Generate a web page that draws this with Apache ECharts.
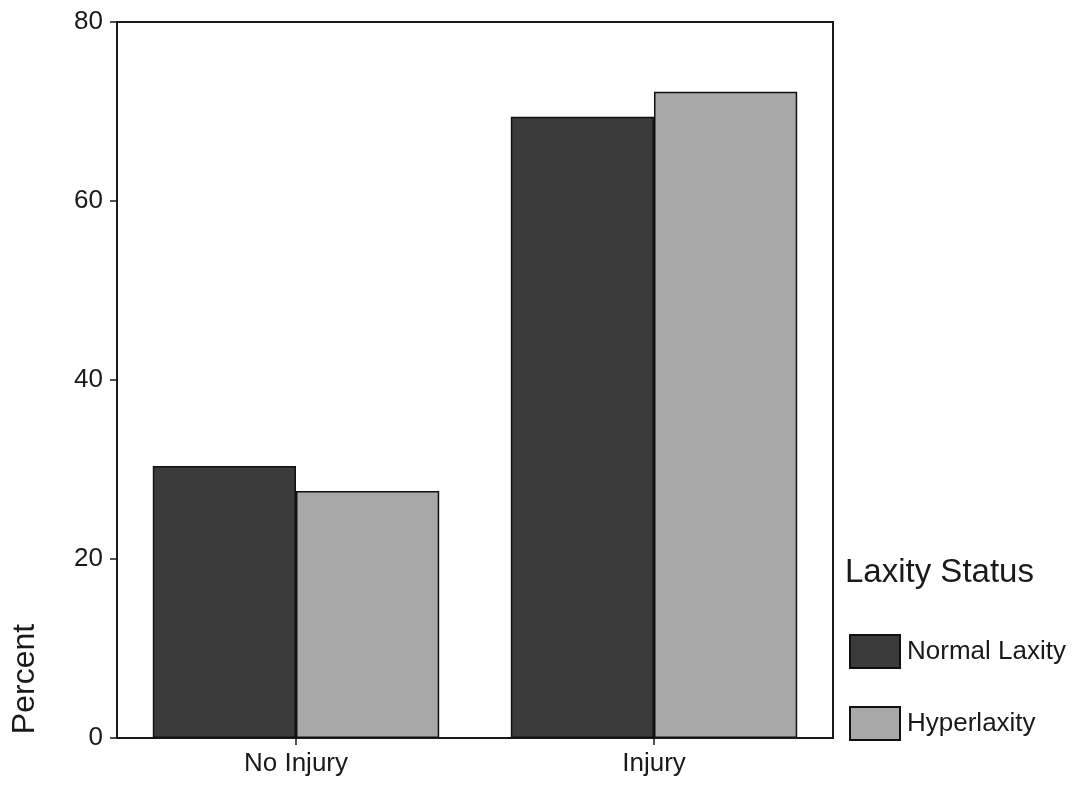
<!DOCTYPE html>
<html>
<head>
<meta charset="utf-8">
<script src="https://cdn.jsdelivr.net/npm/echarts@6/dist/echarts.min.js"></script>
<style>
  html, body { margin: 0; padding: 0; background: #fff; }
  #chart { width: 1077px; height: 786px; }
</style>
</head>
<body>
<div id="chart"></div>
<script>
const categories = ['No Injury', 'Injury'];
const normalLaxity = [30.4, 69.4];
const hyperlaxity = [27.6, 72.2];
const yTicks = [0, 20, 40, 60, 80];

const chart = echarts.init(document.getElementById('chart'));
const font = 'Liberation Sans, Arial, Helvetica, sans-serif';

chart.setOption({
  animation: false,
  backgroundColor: '#ffffff',
  title: {
    text: 'Laxity Status',
    left: 840,
    top: 551,
    textStyle: { fontFamily: font, fontSize: 33, fontWeight: 'normal', color: '#1a1a1a' }
  },
  legend: {
    orient: 'vertical',
    left: 849,
    top: 634,
    padding: 0,
    icon: 'rect',
    itemWidth: 50,
    itemHeight: 33,
    itemGap: 37,
    textStyle: { fontFamily: font, fontSize: 26, color: '#1a1a1a', padding: [0, 0, 0, 2] },
    data: ['Normal Laxity', 'Hyperlaxity']
  },
  graphic: [{
    type: 'text',
    x: 25,
    y: 679,
    rotation: Math.PI / 2,
    style: {
      text: 'Percent',
      font: '32px ' + font,
      fill: '#1a1a1a',
      textAlign: 'center',
      textVerticalAlign: 'middle'
    }
  }],
  grid: {
    left: 117,
    top: 22,
    width: 716,
    height: 716,
    show: true,
    borderColor: '#1a1a1a',
    borderWidth: 2,
    backgroundColor: 'transparent'
  },
  xAxis: {
    type: 'category',
    data: categories,
    axisLine: { show: true, lineStyle: { color: '#1a1a1a', width: 2 } },
    axisTick: { show: true, alignWithLabel: true, length: 7, lineStyle: { color: '#1a1a1a', width: 1.5 } },
    axisLabel: { fontFamily: font, fontSize: 26, color: '#1a1a1a', margin: 13 },
    splitLine: { show: false }
  },
  yAxis: {
    type: 'value',
    min: yTicks[0],
    max: yTicks[yTicks.length - 1],
    interval: 20,
    axisLine: { show: true, lineStyle: { color: '#1a1a1a', width: 2 } },
    axisTick: { show: true, length: 7, lineStyle: { color: '#1a1a1a', width: 1.5 } },
    axisLabel: { fontFamily: font, fontSize: 26, color: '#1a1a1a', margin: 14 },
    splitLine: { show: false }
  },
  series: [
    {
      name: 'Normal Laxity',
      type: 'bar',
      data: normalLaxity,
      barGap: '0%',
      barCategoryGap: '20%',
      itemStyle: { color: '#3b3b3b', borderColor: '#111', borderWidth: 1.5 }
    },
    {
      name: 'Hyperlaxity',
      type: 'bar',
      data: hyperlaxity,
      itemStyle: { color: '#a8a8a8', borderColor: '#111', borderWidth: 1.5 }
    }
  ]
});
</script>
</body>
</html>
